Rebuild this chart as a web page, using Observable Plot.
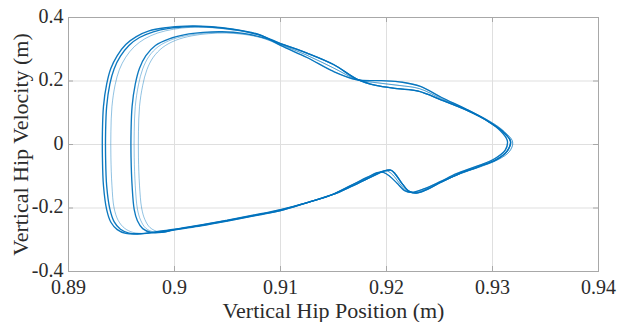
<!DOCTYPE html>
<html>
<head>
<meta charset="utf-8">
<script src="https://cdn.jsdelivr.net/npm/d3@7"></script>
<script src="https://cdn.jsdelivr.net/npm/@observablehq/plot@0.6"></script>
<style>
  html, body { margin: 0; padding: 0; background: #fff; }
  #chart svg { display: block; }
</style>
</head>
<body>
<div id="chart"></div>
<script>
// ---- Axis ticks ----
const xTicks = [0.89, 0.9, 0.91, 0.92, 0.93, 0.94];
const xTickLabels = ["0.89", "0.9", "0.91", "0.92", "0.93", "0.94"];
const yTicks = [-0.4, -0.2, 0, 0.2, 0.4];
const yTickLabels = ["-0.4", "-0.2", "0", "0.2", "0.4"];
const xLabel = "Vertical Hip Position (m)";
const yLabel = "Vertical Hip Velocity (m)";

// ---- Right-hand parts of the loops (top at x=0.91 -> tip -> kink -> bottom at x=0.91) ----
const right1 = [[0.9100,0.312],[0.9125,0.274],[0.9150,0.230],[0.9172,0.204],[0.9195,0.201],[0.9215,0.196],[0.9232,0.183],[0.9252,0.148],[0.9276,0.110],[0.9294,0.077],[0.9307,0.045],[0.9314,0.012],[0.9312,-0.018],[0.9302,-0.045],[0.9284,-0.070],[0.9266,-0.092],[0.9250,-0.118],[0.9235,-0.140],[0.9224,-0.151],[0.9217,-0.145],[0.9210,-0.122],[0.9203,-0.100],[0.9197,-0.088],[0.9191,-0.089],[0.9182,-0.103],[0.9165,-0.131],[0.9147,-0.160],[0.9125,-0.183],[0.9100,-0.205]];
const right2 = [[0.9100,0.318],[0.9125,0.288],[0.9150,0.252],[0.9172,0.206],[0.9190,0.186],[0.9210,0.176],[0.9230,0.168],[0.9252,0.140],[0.9277,0.106],[0.9295,0.075],[0.9309,0.043],[0.9317,0.010],[0.9314,-0.020],[0.9304,-0.047],[0.9286,-0.071],[0.9268,-0.093],[0.9252,-0.118],[0.9238,-0.142],[0.9228,-0.153],[0.9221,-0.147],[0.9214,-0.120],[0.9208,-0.092],[0.9204,-0.081],[0.9198,-0.083],[0.9188,-0.098],[0.9168,-0.130],[0.9149,-0.158],[0.9126,-0.182],[0.9100,-0.208]];
const right3 = [[0.9100,0.315],[0.9125,0.281],[0.9150,0.241],[0.9172,0.205],[0.9192,0.194],[0.9212,0.186],[0.9231,0.176],[0.9252,0.144],[0.9277,0.108],[0.9296,0.076],[0.9310,0.044],[0.9319,0.008],[0.9316,-0.022],[0.9305,-0.048],[0.9287,-0.072],[0.9268,-0.094],[0.9251,-0.119],[0.9237,-0.141],[0.9226,-0.152],[0.9219,-0.146],[0.9212,-0.121],[0.9206,-0.096],[0.9201,-0.084],[0.9195,-0.085],[0.9185,-0.100],[0.9166,-0.130],[0.9148,-0.159],[0.9126,-0.183],[0.9100,-0.206]];

// ---- Left-hand parts (bottom near x=0.9075 -> left edge -> top peak -> x=0.908) ----
const leftA1 = [[0.9075,-0.222],[0.9050,-0.238],[0.9025,-0.253],[0.9000,-0.267],[0.8980,-0.276],[0.8965,-0.282],[0.8954,-0.280],[0.8946,-0.268],[0.8940,-0.245],[0.8936,-0.205],[0.8933,-0.130],[0.8932,-0.040],[0.8932,0.040],[0.8933,0.120],[0.8936,0.190],[0.8940,0.240],[0.8946,0.280],[0.8954,0.315],[0.8964,0.340],[0.8976,0.358],[0.8992,0.368],[0.9010,0.373],[0.9025,0.373],[0.9045,0.368],[0.9065,0.358],[0.9082,0.344]];
const leftA2 = [[0.9075,-0.223],[0.9050,-0.239],[0.9025,-0.254],[0.9000,-0.268],[0.8982,-0.277],[0.8968,-0.281],[0.8957,-0.279],[0.8949,-0.267],[0.8943,-0.243],[0.8939,-0.203],[0.8936,-0.130],[0.8935,-0.040],[0.8935,0.040],[0.8936,0.120],[0.8939,0.190],[0.8943,0.238],[0.8949,0.278],[0.8957,0.312],[0.8967,0.337],[0.8980,0.355],[0.8995,0.366],[0.9012,0.371],[0.9027,0.371],[0.9046,0.366],[0.9065,0.357],[0.9082,0.343]];
const leftA3 = [[0.9075,-0.224],[0.9050,-0.240],[0.9025,-0.255],[0.9000,-0.269],[0.8984,-0.277],[0.8972,-0.280],[0.8961,-0.277],[0.8953,-0.264],[0.8947,-0.240],[0.8943,-0.200],[0.8941,-0.130],[0.8940,-0.040],[0.8940,0.040],[0.8941,0.120],[0.8944,0.188],[0.8948,0.236],[0.8954,0.275],[0.8962,0.308],[0.8972,0.333],[0.8984,0.351],[0.8999,0.363],[0.9015,0.369],[0.9030,0.369],[0.9048,0.364],[0.9066,0.355],[0.9082,0.342]];
const leftB1 = [[0.9075,-0.225],[0.9050,-0.241],[0.9025,-0.256],[0.9000,-0.269],[0.8988,-0.277],[0.8978,-0.277],[0.8970,-0.265],[0.8965,-0.240],[0.8962,-0.205],[0.8960,-0.130],[0.8959,-0.040],[0.8959,0.040],[0.8960,0.120],[0.8963,0.190],[0.8967,0.240],[0.8973,0.280],[0.8982,0.312],[0.8995,0.333],[0.9010,0.346],[0.9027,0.353],[0.9045,0.355],[0.9065,0.350],[0.9082,0.338]];
const leftB2 = [[0.9075,-0.224],[0.9050,-0.240],[0.9025,-0.255],[0.9000,-0.268],[0.8990,-0.276],[0.8981,-0.276],[0.8973,-0.264],[0.8968,-0.238],[0.8965,-0.203],[0.8963,-0.130],[0.8962,-0.040],[0.8962,0.040],[0.8963,0.120],[0.8966,0.188],[0.8970,0.238],[0.8976,0.278],[0.8985,0.309],[0.8998,0.331],[0.9013,0.344],[0.9030,0.351],[0.9047,0.353],[0.9066,0.348],[0.9082,0.337]];
const leftB3 = [[0.9075,-0.225],[0.9050,-0.241],[0.9025,-0.256],[0.9000,-0.268],[0.8992,-0.275],[0.8985,-0.275],[0.8977,-0.262],[0.8972,-0.236],[0.8969,-0.200],[0.8967,-0.130],[0.8966,-0.040],[0.8966,0.040],[0.8967,0.120],[0.8970,0.186],[0.8974,0.236],[0.8980,0.275],[0.8989,0.306],[0.9001,0.328],[0.9016,0.342],[0.9032,0.349],[0.9049,0.351],[0.9067,0.346],[0.9082,0.336]];

// ---- Cycles: which left and right parts, and whether the trace is drawn heavy ----
const cycleNames = ["A1", "A2", "A3", "B1", "B2", "B3"];
const cycleLeft  = [leftA1, leftA2, leftA3, leftB1, leftB2, leftB3];
const cycleRight = [right1, right2, right3, right2, right1, right3];
const cycleHeavy = [true, true, false, true, false, false];

const rows = [];
cycleNames.forEach((name, i) => {
  [...cycleLeft[i], ...cycleRight[i]].forEach(([x, y], k) =>
    rows.push({cycle: name, heavy: cycleHeavy[i], x, y, k}));
});

const font = "'Liberation Serif', 'Times New Roman', serif";
const blue = "#0072BD";
const boxGray = "#a8a8a8";

const chart = Plot.plot({
  width: 617,
  height: 322,
  marginLeft: 68,
  marginRight: 19,
  marginTop: 17,
  marginBottom: 51,
  style: {fontFamily: font, background: "#fff", color: "#2b2b2b"},
  x: {domain: [0.89, 0.94]},
  y: {domain: [-0.4, 0.4]},
  marks: [
    Plot.gridX(xTicks, {stroke: "#dfdfdf", strokeOpacity: 1}),
    Plot.gridY(yTicks, {stroke: "#dfdfdf", strokeOpacity: 1}),
    Plot.line(rows.filter(d => !d.heavy), {x: "x", y: "y", z: "cycle", curve: "catmull-rom-closed", stroke: blue, strokeWidth: 0.8, strokeOpacity: 0.55}),
    Plot.line(rows.filter(d => d.heavy), {x: "x", y: "y", z: "cycle", curve: "catmull-rom-closed", stroke: blue, strokeWidth: 1.35, strokeOpacity: 0.95}),
    Plot.frame({stroke: boxGray, strokeWidth: 1}),
    // inward ticks on all four sides (MATLAB box style)
    Plot.tickX(xTicks, {x: d => d, insetTop: 249, stroke: boxGray}),
    Plot.tickX(xTicks, {x: d => d, insetBottom: 249, stroke: boxGray}),
    Plot.tickY(yTicks, {y: d => d, insetRight: 525, stroke: boxGray}),
    Plot.tickY(yTicks, {y: d => d, insetLeft: 525, stroke: boxGray}),
    Plot.axisX(xTicks, {
      tickSize: 0, tickPadding: 8, fontSize: 20,
      tickFormat: (d, i) => xTickLabels[i], label: null
    }),
    Plot.axisY(yTicks, {
      tickSize: 0, tickPadding: 5, fontSize: 20, dy: -1,
      tickFormat: (d, i) => yTickLabels[i], label: null
    }),
    Plot.text([xLabel], {text: d => d, frameAnchor: "bottom", textAnchor: "middle", lineAnchor: "middle", dy: 39, fontSize: 22}),
    Plot.text([yLabel], {text: d => d, frameAnchor: "left", textAnchor: "middle", lineAnchor: "middle", rotate: -90, dx: -48, fontSize: 22})
  ]
});
document.getElementById("chart").appendChild(chart);
</script>
</body>
</html>
